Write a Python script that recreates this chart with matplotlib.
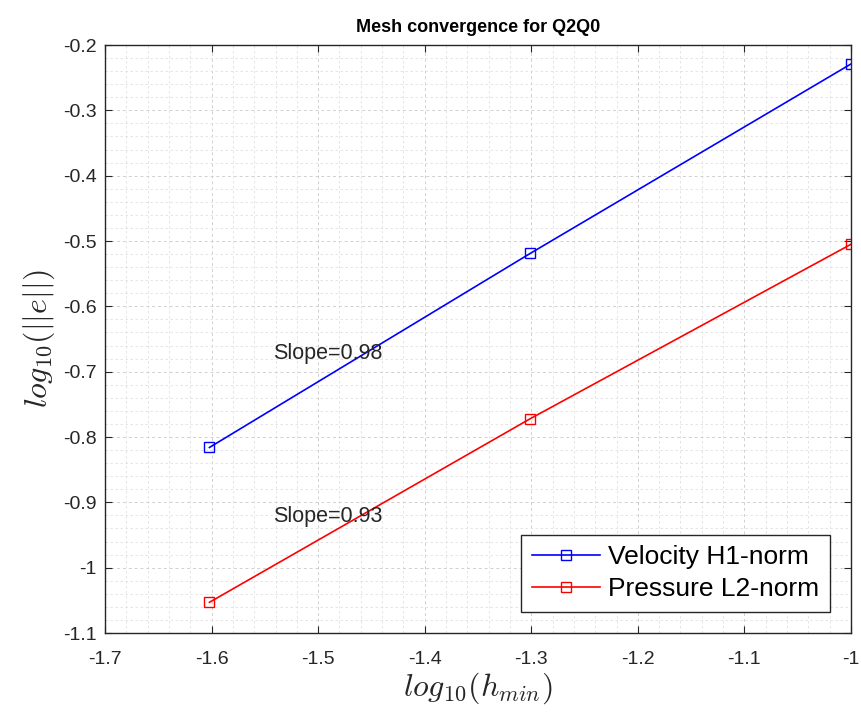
import numpy as np
from matplotlib import pyplot as plt
from matplotlib.ticker import MultipleLocator

plt.rcParams['font.family'] = ['Liberation Sans', 'DejaVu Sans']
plt.rcParams['mathtext.fontset'] = 'cm'

# data
log_h = [-1.602, -1.301, -1.0]
vel_err = [-0.816, -0.519, -0.229]
pres_err = [-1.053, -0.772, -0.505]
slope_labels = ['Slope=0.98', 'Slope=0.93']
slope_pos = [(-1.542, -0.672), (-1.542, -0.921)]

fig = plt.figure(figsize=(8.62, 7.15), dpi=100)
ax = fig.add_axes([105 / 862, 1 - 633 / 715, 746 / 862, 588 / 715])

ax.plot(log_h, vel_err, color='#0000ff', marker='s', mfc='none', ms=7,
        lw=1.2, label='Velocity H1-norm')
ax.plot(log_h, pres_err, color='#ff0000', marker='s', mfc='none', ms=7,
        lw=1.2, label='Pressure L2-norm')

for txt, (tx, ty) in zip(slope_labels, slope_pos):
    ax.text(tx, ty, txt, fontsize=15.5, color='#262626', va='center', ha='left')

ax.set_xlim(-1.7, -1.0)
ax.set_ylim(-1.1, -0.2)
ax.xaxis.set_major_locator(MultipleLocator(0.1))
ax.yaxis.set_major_locator(MultipleLocator(0.1))
ax.xaxis.set_minor_locator(MultipleLocator(0.02))
ax.yaxis.set_minor_locator(MultipleLocator(0.02))
ax.xaxis.set_major_formatter(plt.FuncFormatter(lambda v, p: ('%g' % round(v, 2))))
ax.yaxis.set_major_formatter(plt.FuncFormatter(lambda v, p: ('%g' % round(v, 2))))

ax.grid(which='major', color='#d0d0d0', ls=(0, (3, 3)), lw=0.7)
ax.grid(which='minor', color='#e0e0e0', ls=(0, (3, 3)), lw=0.6)
ax.set_axisbelow(True)

ax.tick_params(which='major', direction='in', top=True, right=True, length=5,
               labelsize=14, colors='#262626')
ax.tick_params(axis='x', which='major', pad=13)
ax.tick_params(axis='y', which='major', pad=6)
ax.tick_params(which='minor', length=0, top=True, right=True)
for s in ax.spines.values():
    s.set_color('#262626')
    s.set_linewidth(1.0)

ax.set_xlabel(r'$log_{10}(h_{min})$', fontsize=23, color='#262626', labelpad=2)
ax.set_ylabel(r'$log_{10}(||e||)$', fontsize=23, color='#262626', labelpad=4)
ax.set_title('Mesh convergence for Q2Q0', fontsize=13, fontweight='bold', pad=9)

leg = ax.legend(loc='lower right', fontsize=19, fancybox=False, framealpha=1,
                edgecolor='#262626', borderaxespad=0.8, handlelength=2.6,
                borderpad=0.4, labelspacing=0.3, handletextpad=0.3)
leg.get_frame().set_linewidth(1.0)

fig.savefig('out.png', dpi=100)
